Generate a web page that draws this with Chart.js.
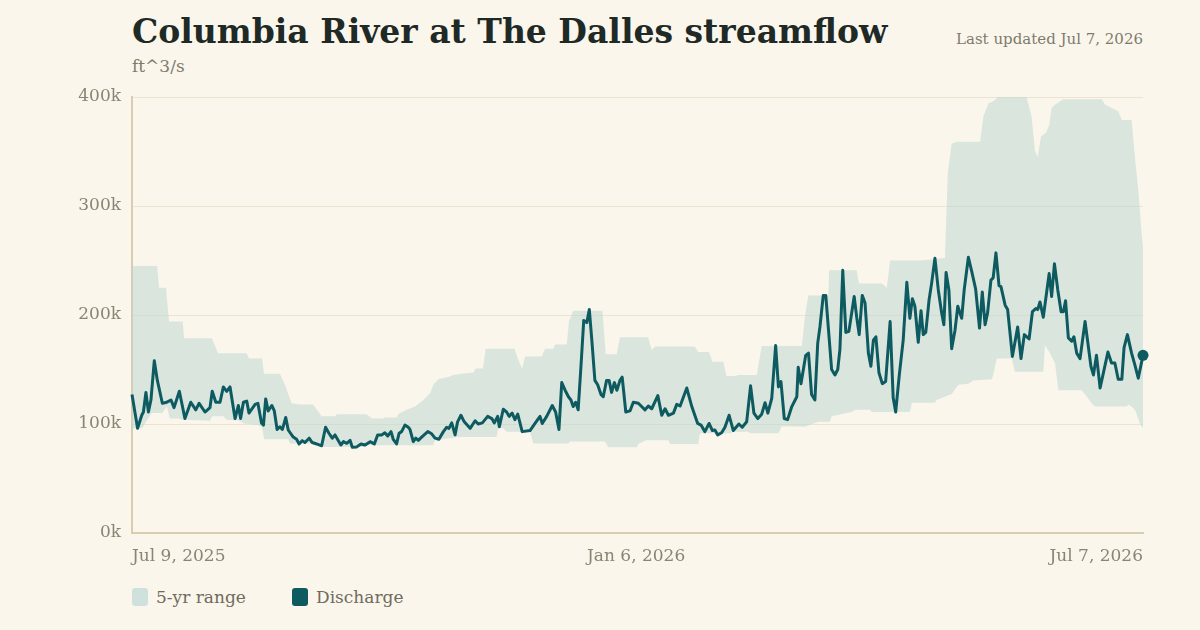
<!DOCTYPE html>
<html>
<head>
<meta charset="utf-8">
<script src="https://cdn.jsdelivr.net/npm/chart.js@4.4.1/dist/chart.umd.min.js"></script>
<style>
  html, body { margin:0; padding:0; background:#faf6ec; }
  body { width:1200px; height:630px; position:relative; overflow:hidden; font-family:"DejaVu Serif", Georgia, serif; }
  #title { position:absolute; left:132px; top:12px; font-size:33px; font-weight:bold; color:#1f2a26; white-space:nowrap; }
  #unit { position:absolute; left:132px; top:56px; font-size:17px; color:#7f7b6c; }
  #updated { position:absolute; right:57px; top:30px; font-size:15px; color:#7f7b6c; }
  #wrap { position:absolute; left:0; top:0; width:1200px; height:575px; }
  .legend { position:absolute; top:587px; font-size:17px; color:#6f6b5d; display:flex; align-items:center; }
  .sw { width:16px; height:18px; border-radius:3px; margin-right:8px; }
</style>
</head>
<body>
<div id="title">Columbia River at The Dalles streamflow</div>
<div id="unit">ft^3/s</div>
<div id="updated">Last updated Jul 7, 2026</div>
<div id="wrap"><canvas id="chart"></canvas></div>
<div class="legend" style="left:132px"><div class="sw" style="background:#cfe1dc"></div>5-yr range</div>
<div class="legend" style="left:292px"><div class="sw" style="background:#0d5a61"></div>Discharge</div>
<script>
// days since Jul 9, 2025 ; values in thousand ft^3/s
const xTickDays = [0, 181, 363];
const xTickLabels = ['Jul 9, 2025', 'Jan 6, 2026', 'Jul 7, 2026'];

const flowDay = [0,2.0,3.5,4.1,5.0,5.9,6.8,8.0,9.1,10.9,12.5,14.0,15.1,17.0,19.0,21.1,22.9,24.1,26.2,28.0,28.8,30.1,31.6,32.8,34.0,35.2,37.0,38.2,39.0,40.0,41.2,42.0,44.2,45.2,46.5,47.2,48.0,48.9,50.2,51.1,52.1,53.1,54.0,55.2,56.1,57.9,59.1,60.0,61.1,62.1,63.6,64.7,66.3,68.1,69.5,70.7,71.9,72.9,74.1,75.0,75.9,77.1,78.3,79.1,80.7,82.2,83.7,85.5,87.0,88.2,89.7,90.8,91.8,93.0,93.8,95.0,95.9,96.8,98.0,99.2,99.8,101.0,101.9,102.8,104.0,106.2,107.6,108.8,110.2,111.8,113.0,113.8,114.8,116.0,116.9,118.1,119.3,121.4,123.2,124.3,125.8,127.7,129.2,130.1,131.3,131.9,133.3,134.5,135.4,136.5,137.5,138.5,140.1,142.9,144.7,146.5,147.3,148.9,150.9,152.1,153.3,154.3,155.5,156.7,157.6,158.4,159.3,160.2,161.2,162.2,163.3,164.2,165.1,166.2,167.2,168.4,169.2,170.4,171.3,172.2,173.2,174.1,175.2,176.0,177.3,178.8,180.0,181.8,184.2,185.4,186.6,188.8,190.2,191.4,192.6,194.4,195.6,196.8,199.2,201.0,203.1,204.3,205.7,207.2,208.4,209.3,210.3,211.7,212.9,214.4,215.9,217.9,219.1,220.7,222.1,223.3,224.7,226.1,227.3,228.3,229.7,231.1,232.1,233.0,234.2,235.4,236.9,238.7,239.2,240.2,241.9,242.9,244.0,245.2,246.2,247.0,248.2,249.1,251.2,252.4,253.4,254.2,255.2,256.3,257.4,259.3,260.2,261.1,262.2,263.2,264.4,265.3,266.2,267.1,268.2,269.4,270.6,272.2,273.3,274.2,275.5,276.9,278.2,279.3,280.2,281.1,282.3,283.3,284.1,285.0,286.2,287.1,288.3,289.5,290.7,291.5,292.3,293.3,294.3,295.5,296.5,297.9,298.8,300.3,301.5,302.9,304.3,305.3,306.3,307.2,308.4,309.2,310.2,311.3,312.0,313.5,314.4,316.1,318.0,319.2,320.4,322.1,323.3,324.6,325.2,326.0,327.2,329.3,330.2,331.2,332.4,333.6,334.4,335.2,336.2,337.4,338.2,339.2,340.4,342.2,344.3,345.2,346.3,347.6,350.4,351.7,352.9,354.1,355.4,356.2,357.4,358.9,360.1,361.3,363];
const flowK = [127,96,108,111,129,111,122,158,140,119,120,122,115,130,105,120,113,119,111,115,130,120,120,134,130,134,105,117,105,120,121,110,118,119,101,99,123,112,117,112,95,97.5,95,106,94.5,88,86,81.7,84.7,83,87,83,81.7,80,97,91.5,87,90,84.7,80.7,83.8,82.3,85,78.6,79,81.7,80.7,83.8,81.7,90,90,92,89,93,86,81.7,91.5,93,99,97,95,83.8,87,85,88,93,91,87,86,93,97,96,101,90,102,108,102,96,103,100,101,107,105,101,107,97.5,113.5,111,107,110,104,109,93,94,100.5,107,100.5,107,117,111,95,138,131,125,122,116,120,113,153,195,193,205,177,140,136,127,125,140,140,129,138,131,140,143,111,112,120,119,113,116.5,114,126,108,114,108,110,118,116.5,133,116,100.5,99,93,100.5,94,94.5,90,92,97,108,94,100,97,102,135,110,105,109,119.5,110,123.5,172,134,139,105,104,116,125,152,137,163,165,127,122,174,189,218,218,150,145,150,169,241,184,185,217,198,182,218,211,165,153,177,180,147,137,139,194,124,111,145,177,230,197,215,208,175,204,182,184,214,229,252,223,202,191,239,223,169,186,208,197,223,253,240,224,188,221,191,202,232,234,257,227,226,209,205,162,189,160,182,178,203,206,205,212,198,238,217,247,223,203,203,213,179,176,180,165,160,194,153,145,163,133,166,156,156,141,141,170,182,165,154,142,163];

const rangeHiDay = [0,9.0,9.7,12.2,13.3,18.2,18.7,28.7,30.9,41.2,42.0,46.7,47.4,53.1,54.9,57.3,60.3,65.0,68.1,72.9,73.6,84.3,86.1,90.2,90.8,95.1,95.6,98.6,101.6,104.6,107.0,108.2,110.0,114.2,115.4,121.4,122.4,123.5,126.0,127.0,137.3,138.7,140.1,141.1,147.1,148.3,151.3,151.9,156.1,156.9,158.4,168.9,170.1,174.0,175.2,185.3,186.6,187.8,202.1,203.3,207.2,208.4,212.3,213.5,216.5,217.7,224.3,226.1,240.5,241.6,242.8,250.0,250.3,260.2,261.0,269.2,271.0,272.2,282.9,287.1,291.9,292.9,294.3,296.1,304.5,305.7,307.5,309.2,311.0,321.2,323.0,324.2,325.2,326.4,328.1,329.3,330.2,331.4,334.4,348.2,349.4,351.8,354.1,355.4,358.9,360.1,361.3,362.5,363];
const rangeHiK = [245,245,225,225,194,194,178.6,178.6,165,165,160,160,146,146,136,119,118,118,107,107,109,109,105,105,106,106,109,113,116,122,128,136,141,143.5,145,147,147,151,151,169,169,159,151,162,162,169,169,173,173,194,204,204,164,164,179.5,179.5,168,171,171,166,166,157,157,144,144,145,145,171.5,171.5,198,218,218,241,241,229,229,225,250,250,251,252.5,330,357,359,359,382,394,396,400,400,382,351,345,364,367,374,390,393,398,398,393,390,387,379,379,345,315,275,262];

const rangeLoDay = [0,3.6,7.1,10.8,12.5,13.6,16.6,18.4,28.0,28.8,32.8,34.0,38.8,40.0,45.3,46.6,47.5,56.1,56.7,68.1,68.6,83.7,84.7,108.1,108.8,117.2,130.9,131.5,133.3,134.5,142.9,144.1,156.7,157.3,169.8,171.0,181.2,181.8,184.6,192.6,193.2,203.3,203.9,215.3,215.9,221.3,221.9,232.1,233.3,241.6,246.4,250.6,251.2,258.4,259.6,265.0,265.6,279.3,280.0,288.3,288.9,294.3,296.7,300.3,302.1,308.7,309.2,310.5,315.9,317.0,327.2,327.8,329.6,331.4,332.6,341.0,342.2,344.6,345.8,357.2,357.7,358.9,360.1,361.9,363];
const rangeLoK = [96,96,110,110,116,105,105,104,103,107,107,104,103,100.5,99,97.5,86,86,82,82,79,79,80.5,80.5,85,88,88,96,96,93,93,82,82,84,84,78.6,78.6,81.7,85,85,81.7,81.7,91.5,91.5,93,93,91.5,91.5,98,97.5,102,102,107,111,113,113,111,111,119.5,119.5,122,127.5,136,137,140,141,145,160,160,148,148,172.5,165,156,131,131,127,119,116,116,118,116,113,100.5,96];

const pts = (xs, ys) => xs.map((x, i) => ({x, y: ys[i]}));

const bandColor = 'rgba(188,214,208,0.52)';
const lineColor = '#0d5a61';
const tickColor = '#8a8474';

new Chart(document.getElementById('chart'), {
  type: 'line',
  data: {
    datasets: [
      {
        label: 'Discharge',
        data: pts(flowDay, flowK),
        borderColor: lineColor,
        backgroundColor: lineColor,
        borderWidth: 3,
        borderJoinStyle: 'round',
        tension: 0,
        fill: false,
        clip: false,
        pointRadius: ctx => ctx.dataIndex === flowDay.length - 1 ? 5.5 : 0,
        pointBorderWidth: 0
      },
      {
        label: '5-yr range',
        data: pts(rangeHiDay, rangeHiK),
        borderWidth: 0,
        pointRadius: 0,
        backgroundColor: bandColor,
        fill: '+1'
      },
      {
        label: 'low',
        data: pts(rangeLoDay, rangeLoK),
        borderWidth: 0,
        pointRadius: 0,
        fill: false
      }
    ]
  },
  options: {
    responsive: true,
    maintainAspectRatio: false,
    animation: false,
    layout: { padding: { left: 0, right: 57, top: 97, bottom: 0 } },
    plugins: { legend: { display: false }, tooltip: { enabled: false } },
    scales: {
      x: {
        type: 'linear',
        min: 0,
        max: 363,
        afterBuildTicks: s => { s.ticks = xTickDays.map(v => ({value: v})); },
        afterFit: s => { s.height = 42; },
        grid: { display: false, drawTicks: false },
        border: { color: '#d8cdb0', width: 2 },
        ticks: {
          autoSkip: false,
          maxRotation: 0,
          align: 'inner',
          padding: 13,
          color: tickColor,
          font: { family: 'DejaVu Serif', size: 17 },
          callback: (v, i) => xTickLabels[i]
        }
      },
      y: {
        min: 0,
        max: 400,
        afterFit: s => { s.width = 132; },
        grid: { color: '#ece4d0', lineWidth: 1, drawTicks: false },
        border: { color: '#d8cdb0', width: 2 },
        ticks: {
          stepSize: 100,
          padding: 11,
          color: tickColor,
          font: { family: 'DejaVu Serif', size: 17 },
          callback: v => v + 'k'
        }
      }
    }
  }
});
</script>
</body>
</html>
